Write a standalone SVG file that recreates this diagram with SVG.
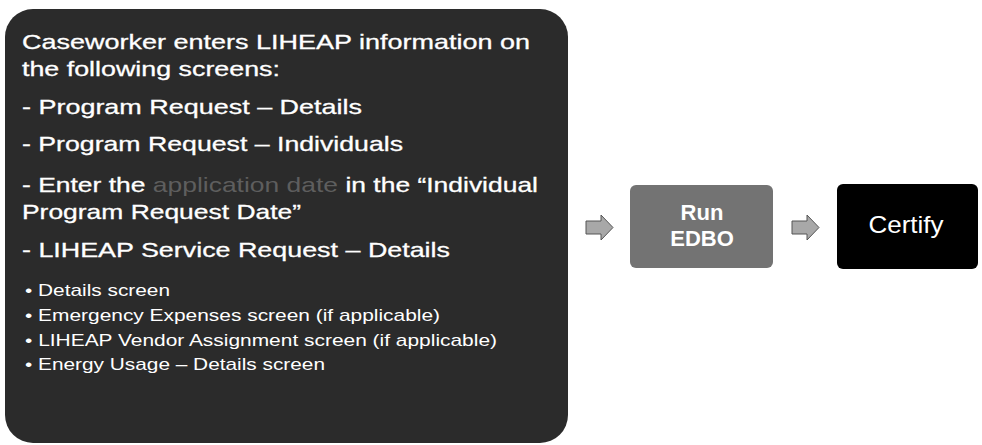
<svg xmlns="http://www.w3.org/2000/svg" width="982" height="445" viewBox="0 0 982 445">
  <style>
    .t { font-family: "Liberation Sans", Arial, sans-serif; fill: #ffffff; }
    .big { font-size: 21px; stroke: #ffffff; stroke-width: 0.3; }
    .small { font-size: 17px; }
    .dim { fill: #5e5e5e; stroke: none; }
    .arrow { fill: #a8a8a8; stroke: #555555; stroke-width: 1; }
  </style>
  <rect x="0" y="0" width="982" height="445" fill="#ffffff"/>
  <g id="node-caseworker">
    <rect x="5" y="9" width="563" height="434" rx="28" ry="28" fill="#2b2b2b"/>
    <text class="t big" x="22" y="49" textLength="508" lengthAdjust="spacingAndGlyphs">Caseworker enters LIHEAP information on</text>
    <text class="t big" x="22" y="76" textLength="258" lengthAdjust="spacingAndGlyphs">the following screens:</text>
    <text class="t big" x="22" y="114" textLength="340" lengthAdjust="spacingAndGlyphs">- Program Request – Details</text>
    <text class="t big" x="22" y="151" textLength="381" lengthAdjust="spacingAndGlyphs">- Program Request – Individuals</text>
    <text class="t big" x="22" y="192" textLength="516" lengthAdjust="spacingAndGlyphs">- Enter the <tspan class="dim">application date</tspan> in the “Individual</text>
    <text class="t big" x="22" y="219" textLength="279" lengthAdjust="spacingAndGlyphs">Program Request Date”</text>
    <text class="t big" x="22" y="257" textLength="428" lengthAdjust="spacingAndGlyphs">- LIHEAP Service Request – Details</text>
    <text class="t small" x="25" y="296" textLength="145" lengthAdjust="spacingAndGlyphs">• Details screen</text>
    <text class="t small" x="25" y="321" textLength="415" lengthAdjust="spacingAndGlyphs">• Emergency Expenses screen (if applicable)</text>
    <text class="t small" x="25" y="346" textLength="472" lengthAdjust="spacingAndGlyphs">• LIHEAP Vendor Assignment screen (if applicable)</text>
    <text class="t small" x="25" y="370" textLength="300" lengthAdjust="spacingAndGlyphs">• Energy Usage – Details screen</text>
  </g>
  <g id="node-run-edbo">
    <rect x="630" y="185" width="143" height="83" rx="6" ry="6" fill="#737373"/>
    <text class="t" x="702" y="220" font-size="22" font-weight="bold" text-anchor="middle" fill="#e6e6e6">Run</text>
    <text class="t" x="702" y="246" font-size="22" font-weight="bold" text-anchor="middle" fill="#e6e6e6">EDBO</text>
  </g>
  <g id="node-certify">
    <rect x="837" y="184" width="141" height="85" rx="6" ry="6" fill="#000000"/>
    <text class="t" x="906" y="233" font-size="24" text-anchor="middle" textLength="75" lengthAdjust="spacingAndGlyphs">Certify</text>
  </g>
  <g id="connectors">
    <polygon class="arrow" points="586,221 601,221 601,215 613,227.5 601,240 601,234 586,234"/>
    <polygon class="arrow" points="792,221 807,221 807,215 819,227.5 807,240 807,234 792,234"/>
  </g>
</svg>
